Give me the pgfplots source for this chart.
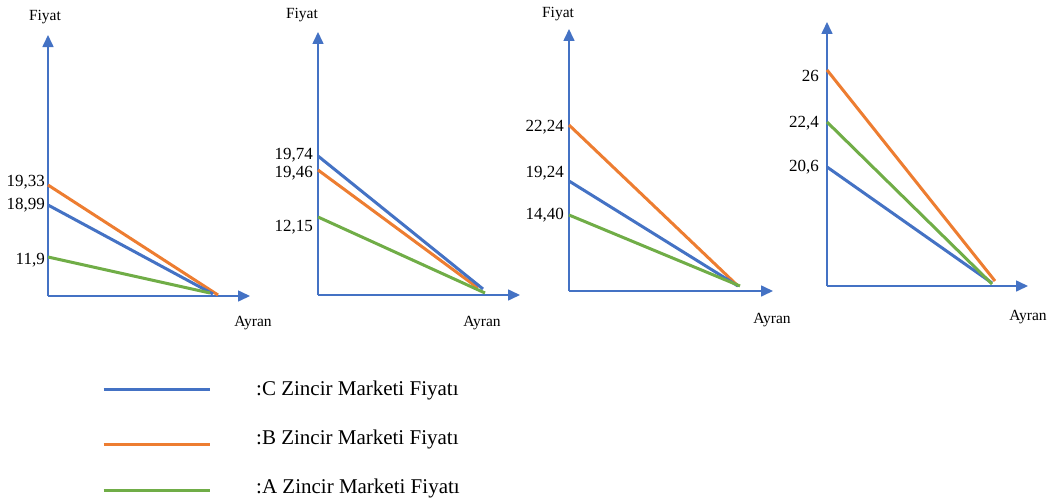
\documentclass[border=0pt]{standalone}
\usepackage{fontspec}
\setmainfont{Liberation Serif}
\usepackage{pgfplots}
\pgfplotsset{compat=1.18}
\usetikzlibrary{arrows.meta}

\definecolor{cBlue}{HTML}{4472C4}
\definecolor{cOrange}{HTML}{ED7D31}
\definecolor{cGreen}{HTML}{70AD47}

\pgfplotsset{
  panel/.style={
    x=1pt, y=1pt, xmin=0, ymin=0,
    anchor=south west,
    axis lines=left,
    axis line style={cBlue, line width=1.6pt, -{Triangle[width=11pt,length=12pt]}},
    xtick=\empty,
    major tick length=0pt,
    yticklabel style={font=\fontsize{17}{19}\selectfont, inner sep=0pt, anchor=east},
    every axis y label/.style={at={(rel axis cs:0,1)}, anchor=center,
      font=\fontsize{15.5}{18}\selectfont},
    every axis x label/.style={at={(rel axis cs:1,0)}, anchor=center,
      font=\fontsize{15.5}{18}\selectfont},
    clip=false,
  },
  price/.style={line width=3pt},
}

\begin{document}
\begin{tikzpicture}
\useasboundingbox (0,0) rectangle (1054pt,499pt);

% panel 1
\begin{axis}[panel, at={(48pt,203pt)}, xmax=202, ymax=261,
  ytick={36,91,114}, yticklabels={{11,9},{18,99},{19,33}},
  yticklabel style={xshift=-3pt},
  ylabel={Fiyat}, ylabel style={xshift=-3pt, yshift=18pt},
  xlabel={Ayran}, xlabel style={xshift=3pt, yshift=-27pt},
  legend style={at={(axis cs:54,-85)}, anchor=north west, draw=none, fill=none,
    inner sep=0pt, row sep=31pt, column sep=45pt,
    nodes={inner sep=0pt, text height=14pt, text depth=4pt,
      font=\fontsize{21}{24}\selectfont}},
  legend cell align=left,
  legend image code/.code={\draw[#1] (0pt,0pt) -- (106pt,0pt);},
]
\addplot[cOrange, price, forget plot] coordinates {(0,111) (170,1)};
\addplot[cBlue, price, forget plot] coordinates {(0,91) (165,2)};
\addplot[cGreen, price, forget plot] coordinates {(0,39) (162,3)};
\addlegendimage{cBlue, line width=3pt, yshift=1pt}
\addlegendentry{:C Zincir Marketi Fiyatı}
\addlegendimage{cOrange, line width=3pt, yshift=-5pt}
\addlegendentry{:B Zincir Marketi Fiyatı}
\addlegendimage{cGreen, line width=3pt, yshift=-2pt}
\addlegendentry{:A Zincir Marketi Fiyatı}
\end{axis}

% panel 2
\begin{axis}[panel, at={(318pt,204pt)}, xmax=202, ymax=263,
  ytick={68,122,140}, yticklabels={{12,15},{19,46},{19,74}},
  yticklabel style={xshift=-5pt},
  ylabel={Fiyat}, ylabel style={xshift=-16pt, yshift=17pt},
  xlabel={Ayran}, xlabel style={xshift=-38pt, yshift=-28pt},
]
\addplot[cOrange, price] coordinates {(0,125) (160,7)};
\addplot[cBlue, price] coordinates {(0,139) (165,6)};
\addplot[cGreen, price] coordinates {(0,78) (167,2)};
\end{axis}

% panel 3
\begin{axis}[panel, at={(569pt,208pt)}, xmax=204, ymax=262,
  ytick={76,118,164}, yticklabels={{14,40},{19,24},{22,24}},
  yticklabel style={xshift=-5pt},
  ylabel={Fiyat}, ylabel style={xshift=-11pt, yshift=15pt},
  xlabel={Ayran}, xlabel style={xshift=-1pt, yshift=-29pt},
]
\addplot[cOrange, price] coordinates {(0,166) (169,5)};
\addplot[cBlue, price] coordinates {(0,110) (169,5)};
\addplot[cGreen, price] coordinates {(0,76) (171,5)};
\end{axis}

% panel 4
\begin{axis}[panel, at={(827pt,213pt)}, xmax=201, ymax=264,
  ytick={119,163,210}, yticklabels={{20,6},{22,4},{26}},
  yticklabel style={xshift=-8pt},
  xlabel={Ayran}, xlabel style={xshift=0pt, yshift=-31pt},
]
\addplot[cBlue, price] coordinates {(0,119) (165,3)};
\addplot[cOrange, price] coordinates {(0,216) (168,5)};
\addplot[cGreen, price] coordinates {(0,164) (165,2)};
\end{axis}
\end{tikzpicture}
\end{document}
